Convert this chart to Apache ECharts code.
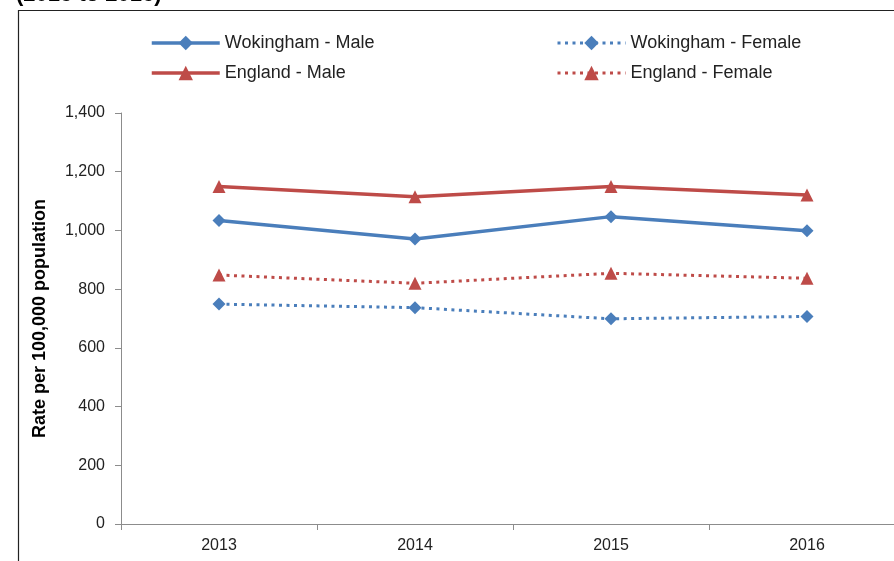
<!DOCTYPE html>
<html>
<head>
<meta charset="utf-8">
<script src="https://cdn.jsdelivr.net/npm/echarts@6/dist/echarts.min.js"></script>
<style>
html,body{margin:0;padding:0;background:#fff;overflow:hidden;width:894px;height:561px;}
#c{width:920px;height:561px;}
</style>
</head>
<body>
<div id="c"></div>
<script>
var years = ['2013', '2014', '2015', '2016'];
var wokinghamMale = [1034, 971, 1047, 999];
var wokinghamFemale = [749, 737, 699, 707];
var englandMale = [1150, 1115, 1150, 1121];
var englandFemale = [848, 820, 854, 837];
var yTicks = [0, 200, 400, 600, 800, 1000, 1200, 1400];

var BLUE = '#4A7EBB';
var RED = '#BE4B48';
var FONT = '"Liberation Sans", Arial, sans-serif';

var chart = echarts.init(document.getElementById('c'), null, {renderer: 'canvas'});

function lineSeries(name, data, color, symbol, dotted, size) {
  return {
    name: name,
    type: 'line',
    data: data,
    symbol: symbol,
    symbolSize: size,
    showAllSymbol: true,
    itemStyle: {color: color},
    lineStyle: {color: color, width: dotted ? 3 : 3.5, type: dotted ? [3, 4.5] : 'solid'},
    emphasis: {disabled: true},
    animation: false
  };
}

function legendItem(name, dotted) {
  return {name: name, lineStyle: {width: dotted ? 3 : 3.5}};
}

var legendCommon = {
  orient: 'vertical',
  itemWidth: 68,
  itemHeight: 18,
  itemGap: 12,
  padding: 0,
  textStyle: {fontFamily: FONT, fontSize: 18, color: '#222'},
  selectedMode: false
};

chart.setOption({
  backgroundColor: '#fff',
  animation: false,
  title: {
    text: '(2013 to 2016)',
    left: 16,
    top: -16,
    padding: 0,
    textStyle: {fontFamily: FONT, fontSize: 22, fontWeight: 'bold', color: '#000'}
  },
  graphic: [{
    type: 'rect',
    shape: {x: 18.5, y: 10.5, width: 900, height: 600},
    style: {fill: 'none', stroke: '#222', lineWidth: 1.2},
    silent: true
  }],
  legend: [
    Object.assign({left: 150, top: 34, data: [legendItem('Wokingham - Male', false), legendItem('England - Male', false)]}, legendCommon),
    Object.assign({left: 556, top: 34, data: [legendItem('Wokingham - Female', true), legendItem('England - Female', true)]}, legendCommon)
  ],
  grid: {left: 121, top: 113, width: 784, height: 411, containLabel: false},
  xAxis: {
    type: 'category',
    data: years,
    boundaryGap: true,
    axisLine: {show: true, lineStyle: {color: '#8c8c8c', width: 1}},
    axisTick: {show: true, length: 6, lineStyle: {color: '#8c8c8c'}},
    axisLabel: {fontFamily: FONT, fontSize: 16, color: '#222', margin: 14},
    splitLine: {show: false}
  },
  yAxis: {
    type: 'value',
    min: yTicks[0],
    max: yTicks[yTicks.length - 1],
    interval: yTicks[1] - yTicks[0],
    name: 'Rate per 100,000 population',
    nameLocation: 'middle',
    nameRotate: 90,
    nameGap: 72,
    nameTextStyle: {fontFamily: FONT, fontSize: 18, fontWeight: 'bold', color: '#000'},
    axisLine: {show: true, lineStyle: {color: '#8c8c8c', width: 1}},
    axisTick: {show: true, length: 6, lineStyle: {color: '#8c8c8c'}},
    axisLabel: {
      fontFamily: FONT, fontSize: 16, color: '#222', margin: 16,
      formatter: function (v) { return v.toLocaleString('en-GB'); }
    },
    splitLine: {show: false}
  },
  series: [
    lineSeries('Wokingham - Male', wokinghamMale, BLUE, 'diamond', false, 13),
    lineSeries('Wokingham - Female', wokinghamFemale, BLUE, 'diamond', true, 13),
    lineSeries('England - Male', englandMale, RED, 'triangle', false, 13),
    lineSeries('England - Female', englandFemale, RED, 'triangle', true, 13)
  ]
});
</script>
</body>
</html>
